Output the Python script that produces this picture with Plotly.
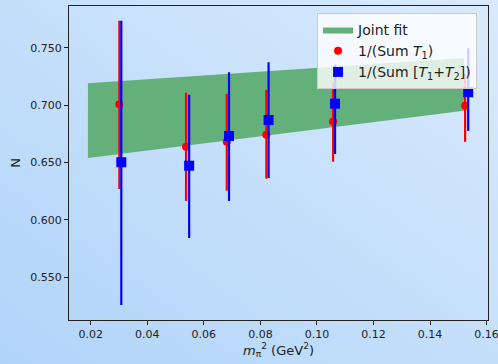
import base64
import plotly.graph_objects as go

# data
x_t1 = [0.0301, 0.0537, 0.0681, 0.0821, 0.1057, 0.1524]
y_t1 = [0.7007, 0.6638, 0.6681, 0.6742, 0.6856, 0.6995]
e_t1_up = [0.0728, 0.0470, 0.0416, 0.0390, 0.034, 0.028]
e_t1_dn = [0.0738, 0.0473, 0.0427, 0.0383, 0.035, 0.0315]

x_t12 = [0.0308, 0.0548, 0.0689, 0.0829, 0.1064, 0.1535]
y_t12 = [0.6502, 0.6472, 0.6731, 0.687, 0.7012, 0.7112]
e_t12_up = [0.1233, 0.0618, 0.0555, 0.0503, 0.034, 0.0383]
e_t12_dn = [0.1243, 0.0630, 0.0566, 0.0505, 0.0438, 0.0337]

fit_x = [0.019, 0.152]
fit_lo = [0.654, 0.695]
fit_hi = [0.719, 0.741]

svg = ('<svg xmlns="http://www.w3.org/2000/svg" width="498" height="364">'
       '<defs><linearGradient id="g" x1="0" y1="1" x2="1" y2="0">'
       '<stop offset="0" stop-color="rgb(176,212,249)"/>'
       '<stop offset="1" stop-color="rgb(218,234,253)"/>'
       '</linearGradient></defs>'
       '<rect width="498" height="364" fill="url(#g)"/></svg>')
bg = "data:image/svg+xml;base64," + base64.b64encode(svg.encode()).decode()

fig = go.Figure()
fig.add_trace(go.Scatter(x=fit_x, y=fit_lo, mode="lines", line=dict(width=0),
                         showlegend=False, hoverinfo="skip", legendgroup="fit"))
fig.add_trace(go.Scatter(x=fit_x, y=fit_hi, mode="lines", line=dict(width=0),
                         fill="tonexty", fillcolor="rgb(100,176,122)", name="Joint fit",
                         legendgroup="fit"))
fig.add_trace(go.Scatter(
    x=x_t1, y=y_t1, mode="markers", name="1/(Sum <i>T</i><sub>1</sub>)", legendgroup="t1",
    marker=dict(color="red", size=8, symbol="circle"),
    error_y=dict(type="data", symmetric=False, array=e_t1_up, arrayminus=e_t1_dn,
                 color="red", thickness=2.2, width=0)))
fig.add_trace(go.Scatter(
    x=x_t12, y=y_t12, mode="markers", legendgroup="t12",
    name="1/(Sum [<i>T</i><sub>1</sub>+<i>T</i><sub>2</sub>])",
    marker=dict(color="blue", size=10, symbol="square"),
    error_y=dict(type="data", symmetric=False, array=e_t12_up, arrayminus=e_t12_dn,
                 color="blue", thickness=2.2, width=0)))

axis_common = dict(showline=True, linecolor="#222", linewidth=1, mirror=True,
                   ticks="outside", ticklen=4, tickcolor="#222", showgrid=False,
                   zeroline=False, automargin=False, tickfont=dict(size=11, color="#222"))
fig.update_xaxes(range=[0.0123, 0.1605], tickvals=[0.02, 0.04, 0.06, 0.08, 0.10, 0.12, 0.14, 0.16],
                 ticktext=["0.02", "0.04", "0.06", "0.08", "0.10", "0.12", "0.14", "0.16"],
                 ticklabeloverflow="allow",
                 title=dict(text="<i>m</i><sub>π</sub><sup>2</sup> (GeV<sup>2</sup>)",
                            font=dict(size=13, color="#222"), standoff=4),
                 **axis_common)
fig.update_yaxes(range=[0.5128, 0.7863], tickvals=[0.55, 0.60, 0.65, 0.70, 0.75],
                 ticktext=["0.550", "0.600", "0.650", "0.700", "0.750"],
                 title=dict(text="N", font=dict(size=13, color="#222"), standoff=6),
                 **axis_common)
fig.update_layout(
    width=498, height=364,
    margin=dict(l=69, r=10, t=6, b=44),
    paper_bgcolor="rgba(0,0,0,0)", plot_bgcolor="rgba(0,0,0,0)",
    font=dict(family="DejaVu Sans", color="#222"),
    images=[dict(source=bg, xref="paper", yref="paper", x=-69/419, y=1 + 6/314,
                 sizex=498/419, sizey=364/314, sizing="stretch", layer="below",
                 xanchor="left", yanchor="top")],
    legend=dict(x=0.592, y=0.978, xanchor="left", yanchor="top", traceorder="normal",
                bgcolor="rgba(255,255,255,0.8)", bordercolor="#ccc", borderwidth=1,
                font=dict(size=14, color="#222"), tracegroupgap=7, itemwidth=30),
    showlegend=True,
)
fig.write_html("out.html")
